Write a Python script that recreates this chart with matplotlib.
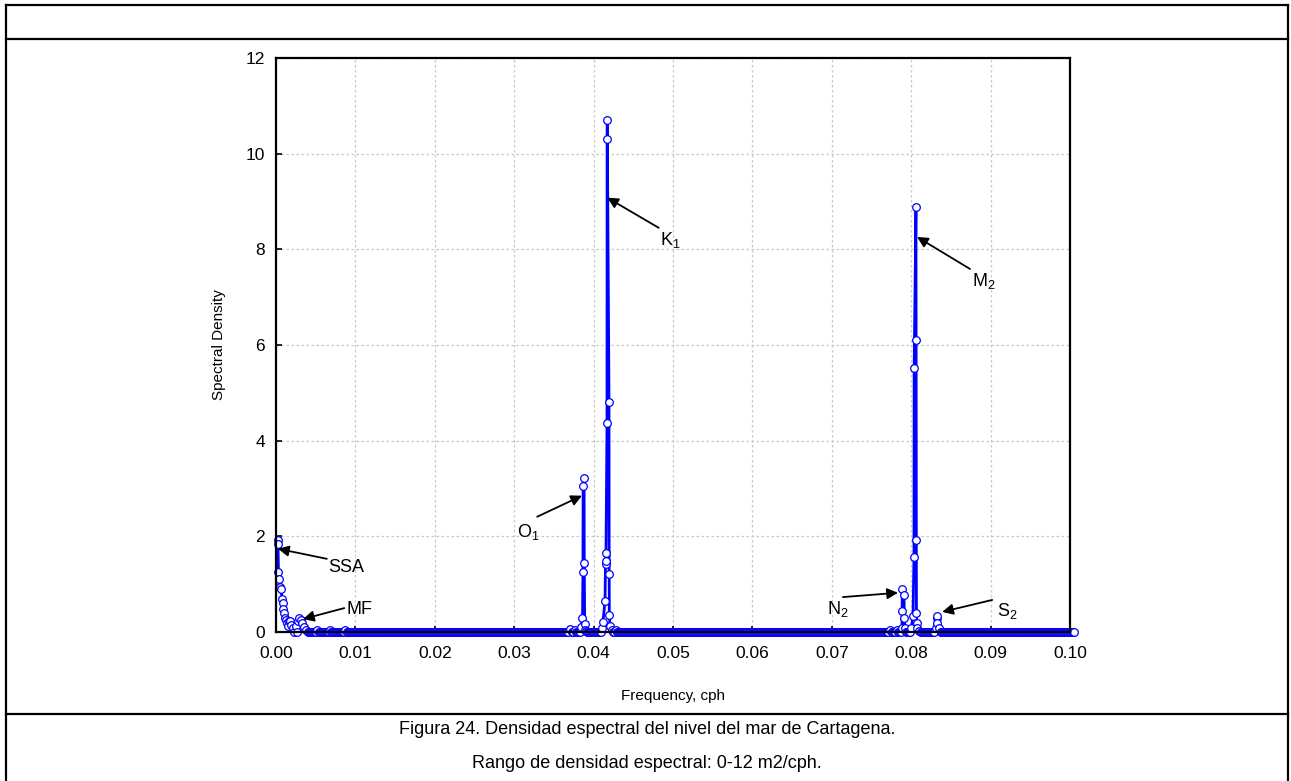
import numpy as np
import matplotlib
matplotlib.use("Agg")
import matplotlib.pyplot as plt
from matplotlib.lines import Line2D

plt.rcParams['font.family'] = ['Liberation Sans', 'DejaVu Sans']

# spectral peaks (frequency in cph, density)
ssa_freq = [0.00019, 0.00025, 0.00031, 0.00038, 0.0005, 0.00063, 0.00076, 0.00088,
            0.00094, 0.0010, 0.00113, 0.00126, 0.00139, 0.00151, 0.00164, 0.00176,
            0.00189, 0.00214]
ssa_val = [1.93, 1.85, 1.25, 1.10, 0.95, 0.90, 0.70, 0.60,
           0.48, 0.40, 0.30, 0.25, 0.18, 0.12, 0.22, 0.23,
           0.15, 0.08]
mf_freq = [0.00252, 0.00277, 0.0029, 0.00315, 0.00327, 0.00353, 0.00378,
           0.0052, 0.0068, 0.0087]
mf_val = [0.12, 0.22, 0.29, 0.25, 0.19, 0.10, 0.05,
          0.04, 0.05, 0.04]
o1_freq = [0.0370, 0.0376, 0.0384, 0.03860, 0.03866, 0.03868, 0.03880, 0.03882,
           0.03888, 0.03892, 0.0390]
o1_val = [0.06, 0.05, 0.10, 0.29, 1.26, 3.05, 3.22, 1.45,
          0.17, 0.05, 0.02]
k1_freq = [0.04106, 0.04118, 0.04144, 0.04150, 0.04154, 0.04156, 0.04169, 0.04170,
           0.04172, 0.04194, 0.04196, 0.04198, 0.04207, 0.04232, 0.0428]
k1_val = [0.08, 0.21, 0.65, 1.42, 1.49, 1.65, 4.37, 10.31,
          10.71, 4.81, 1.21, 0.36, 0.12, 0.05, 0.04]
n2_freq = [0.0773, 0.0782, 0.07884, 0.07886, 0.07888, 0.07910, 0.07912, 0.0792]
n2_val = [0.04, 0.05, 0.08, 0.44, 0.90, 0.77, 0.29, 0.08]
m2_freq = [0.0800, 0.08023, 0.08035, 0.08037, 0.08060, 0.08062, 0.08064, 0.08066,
           0.08070, 0.08073, 0.0810]
m2_val = [0.08, 0.33, 1.57, 5.52, 8.88, 6.10, 1.92, 0.40,
          0.19, 0.08, 0.03]
s2_freq = [0.0831, 0.0832, 0.08325, 0.0833, 0.0835]
s2_val = [0.08, 0.29, 0.33, 0.18, 0.08]

# near-zero background of the periodogram (hourly record, ~1 year)
df = 1.0 / 8760
base_freq = np.arange(0.0015, 0.1005, df)

peak_freq = np.array(ssa_freq + mf_freq + o1_freq + k1_freq + n2_freq + m2_freq + s2_freq)
peak_val = np.array(ssa_val + mf_val + o1_val + k1_val + n2_val + m2_val + s2_val)
keep = np.min(np.abs(base_freq[:, None] - peak_freq[None, :]), axis=1) > 0.00012
freq = np.concatenate([peak_freq, base_freq[keep]])
dens = np.concatenate([peak_val, np.zeros(keep.sum())])
order = np.argsort(freq)
freq, dens = freq[order], dens[order]

# (label, arrow tip, arrow tail, label position)
labels = [
    ('SSA', (0.00025, 1.74), (0.0064, 1.53), (0.0066, 1.34)),
    ('MF', (0.0034, 0.27), (0.0086, 0.50), (0.0089, 0.46)),
    ('O$_\\mathregular{1}$', (0.03854, 2.85), (0.0329, 2.41), (0.0303, 2.09)),
    ('K$_\\mathregular{1}$', (0.04172, 9.08), (0.0482, 8.45), (0.0483, 8.20)),
    ('M$_\\mathregular{2}$', (0.08073, 8.26), (0.0874, 7.59), (0.0876, 7.33)),
    ('N$_\\mathregular{2}$', (0.07834, 0.82), (0.0714, 0.73), (0.0694, 0.48)),
    ('S$_\\mathregular{2}$', (0.0839, 0.42), (0.0902, 0.67), (0.0908, 0.44)),
]

W, H = 1291, 781
fig = plt.figure(figsize=(W / 100, H / 100), dpi=100)
ax = fig.add_axes([276 / W, 1 - 632 / H, (1070 - 276) / W, (632 - 58) / H])

ax.plot(freq, dens, color='#0000ff', lw=2.0, marker='o', ms=5.5,
        mfc='white', mec='#0000ff', mew=0.9, clip_on=False)

for text, tip, tail, pos in labels:
    ax.annotate('', xy=tip, xytext=tail,
                arrowprops=dict(arrowstyle='-|>', color='black', lw=1.3,
                                mutation_scale=16, shrinkA=0, shrinkB=0))
    ax.text(pos[0], pos[1], text, fontsize=13, ha='left', va='center')

ax.set_xlim(0, 0.10)
ax.set_ylim(0, 12)
ax.set_xticks(np.arange(0, 0.1001, 0.01))
ax.set_xticklabels(['%.2f' % v for v in np.arange(0, 0.1001, 0.01)])
ax.set_yticks(np.arange(0, 13, 2))
ax.tick_params(direction='in', length=4, width=1.2, labelsize=12.5, color='black')
ax.tick_params(axis='x', pad=10)
ax.tick_params(axis='y', pad=8)
ax.grid(True, color='#c8c8c8', linestyle=(0, (2, 2)), lw=0.9)
for s in ax.spines.values():
    s.set_linewidth(1.6)
ax.set_xlabel('Frequency, cph', fontsize=11, labelpad=20)
ax.set_ylabel('Spectral Density', fontsize=11, labelpad=14)

# page frame and caption
lw = 1.6
fig.add_artist(Line2D([6 / W, 6 / W], [0, 1 - 5 / H], color='black', lw=lw))
fig.add_artist(Line2D([1288 / W, 1288 / W], [0, 1 - 5 / H], color='black', lw=lw))
fig.add_artist(Line2D([6 / W, 1288 / W], [1 - 5 / H, 1 - 5 / H], color='black', lw=lw))
fig.add_artist(Line2D([6 / W, 1288 / W], [1 - 39 / H, 1 - 39 / H], color='black', lw=lw))
fig.add_artist(Line2D([6 / W, 1288 / W], [1 - 714 / H, 1 - 714 / H], color='black', lw=lw))
fig.text(647 / W, 1 - 730 / H, 'Figura 24. Densidad espectral del nivel del mar de Cartagena.',
         ha='center', va='center', fontsize=13)
fig.text(647 / W, 1 - 763 / H, 'Rango de densidad espectral: 0-12 m2/cph.',
         ha='center', va='center', fontsize=13)

fig.savefig('out.png', dpi=100)
